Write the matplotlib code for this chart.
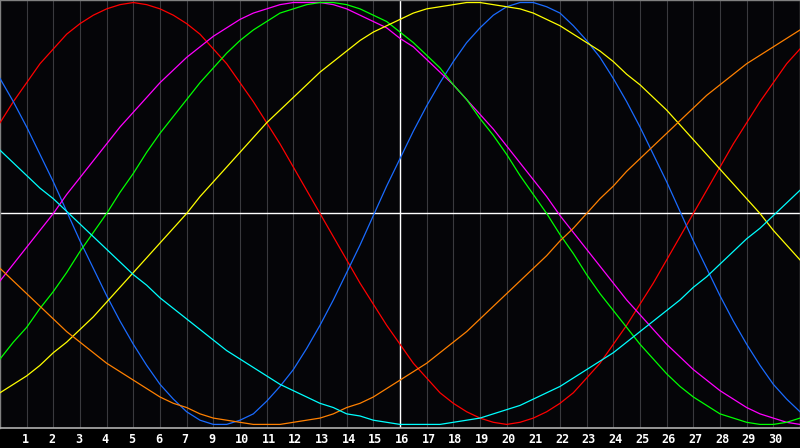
import matplotlib
matplotlib.use("Agg")
import matplotlib.pyplot as plt
from matplotlib.transforms import ScaledTranslation

# 30-day biorhythm-style chart, values in percent
# one value every half day (0, 0.5, 1, ... 30)
days = [i / 2 for i in range(61)]
day_labels = [1, 2, 3, 4, 5, 6, 7, 9, 10, 11, 12, 13, 14, 15, 16, 17, 18, 19,
              20, 21, 22, 23, 24, 25, 26, 27, 28, 29, 30]

red = [43, 53, 62, 71, 78, 85, 90, 94, 97, 99, 100, 99, 97, 94, 90, 85, 78, 71,
       62, 53, 43, 33, 22, 11, 0, -11, -22, -33, -43, -53, -62, -71, -78, -85,
       -90, -94, -97, -99, -100, -99, -97, -94, -90, -85, -78, -71, -62, -53,
       -43, -33, -22, -11, 0, 11, 22, 33, 43, 53, 62, 71, 78]
blue = [64, 53, 41, 28, 15, 1, -13, -26, -39, -51, -62, -72, -81, -88, -94, -98,
        -100, -100, -98, -95, -89, -82, -74, -64, -53, -41, -28, -15, -1, 13, 26,
        39, 51, 62, 72, 81, 88, 94, 98, 100, 100, 98, 95, 89, 82, 74, 64, 53, 41,
        28, 15, 1, -13, -26, -39, -51, -62, -72, -81, -88, -94]
green = [-69, -61, -54, -45, -37, -28, -18, -9, 0, 10, 19, 29, 38, 46, 54, 62, 69,
         76, 82, 87, 91, 95, 97, 99, 100, 100, 99, 97, 94, 91, 86, 81, 75, 69, 61,
         54, 45, 37, 28, 18, 9, 0, -10, -19, -29, -38, -46, -54, -62, -69, -76,
         -82, -87, -91, -95, -97, -99, -100, -100, -99, -97]
magenta = [-32, -24, -16, -8, 0, 9, 17, 25, 33, 41, 48, 55, 62, 68, 74, 79, 84,
           88, 92, 95, 97, 99, 100, 100, 100, 99, 97, 94, 91, 88, 83, 79, 73, 67,
           61, 54, 47, 40, 32, 24, 16, 8, -1, -9, -17, -25, -33, -41, -48, -55,
           -62, -68, -74, -79, -84, -88, -92, -95, -97, -99, -100]
yellow = [-85, -81, -77, -72, -66, -61, -55, -49, -42, -35, -28, -21, -14, -7, 0,
          8, 15, 22, 29, 36, 43, 49, 55, 61, 67, 72, 77, 82, 86, 89, 92, 95, 97,
          98, 99, 100, 100, 99, 98, 97, 95, 92, 89, 85, 81, 77, 72, 66, 61, 55,
          49, 42, 35, 28, 21, 14, 7, 0, -8, -15, -22]
orange = [-26, -32, -38, -44, -50, -56, -61, -66, -71, -75, -79, -83, -87, -90,
          -92, -95, -97, -98, -99, -100, -100, -100, -99, -98, -97, -95, -92, -90,
          -87, -83, -79, -75, -71, -66, -61, -56, -50, -44, -38, -32, -26, -20,
          -13, -7, 0, 7, 13, 20, 26, 32, 38, 44, 50, 56, 61, 66, 71, 75, 79, 83, 87]
cyan = [30, 24, 18, 12, 7, 1, -5, -11, -17, -23, -29, -34, -40, -45, -50, -55,
        -60, -65, -69, -73, -77, -81, -84, -87, -90, -92, -95, -96, -98, -99,
        -100, -100, -100, -100, -99, -98, -97, -95, -93, -91, -88, -85, -82, -78,
        -74, -70, -66, -61, -56, -51, -46, -41, -35, -30, -24, -18, -12, -7, -1,
        5, 11]

series = [
    (red, "#ff0000"),
    (blue, "#1a6bff"),
    (magenta, "#ff00ff"),
    (green, "#00ff00"),
    (yellow, "#ffff00"),
    (orange, "#ff8000"),
    (cyan, "#00ffff"),
]

fig = plt.figure(figsize=(8, 4.48), dpi=100, facecolor="#000000")
ax = fig.add_axes([0, 20 / 448, 1, 428 / 448])
ax.set_facecolor("#050508")

# grid: one thin line per day, white crosshair in the middle
for d in range(1, 30):
    ax.axvline(d, color="#3a3a3e", lw=0.8, zorder=1)
ax.axvline(15, color="#ffffff", lw=1.0, zorder=2)
ax.axhline(0, color="#ffffff", lw=1.0, zorder=2)

for vals, col in series:
    ax.plot(days, vals, color=col, lw=0.9, zorder=3)

ax.set_xlim(0, 30)
ax.set_ylim(-101.7, 101.2)
ax.set_yticks([])

for side in ["left", "top", "right"]:
    ax.spines[side].set_color("#808080")
    ax.spines[side].set_linewidth(1.0)
ax.spines["bottom"].set_color("#b0b0b0")
ax.spines["bottom"].set_linewidth(1.2)

ax.set_xticks(list(range(1, 30)), [str(v) for v in day_labels])
ax.tick_params(axis="x", length=0, pad=3.5, colors="#ffffff")
shift = ScaledTranslation(-5 / 100, 0, fig.dpi_scale_trans)
for lab in ax.get_xticklabels():
    lab.set_ha("left")
    lab.set_fontfamily("DejaVu Sans Mono")
    lab.set_fontweight("bold")
    lab.set_fontsize(8.5)
    lab.set_transform(lab.get_transform() + shift)

fig.savefig("out.png", dpi=100, facecolor=fig.get_facecolor())
